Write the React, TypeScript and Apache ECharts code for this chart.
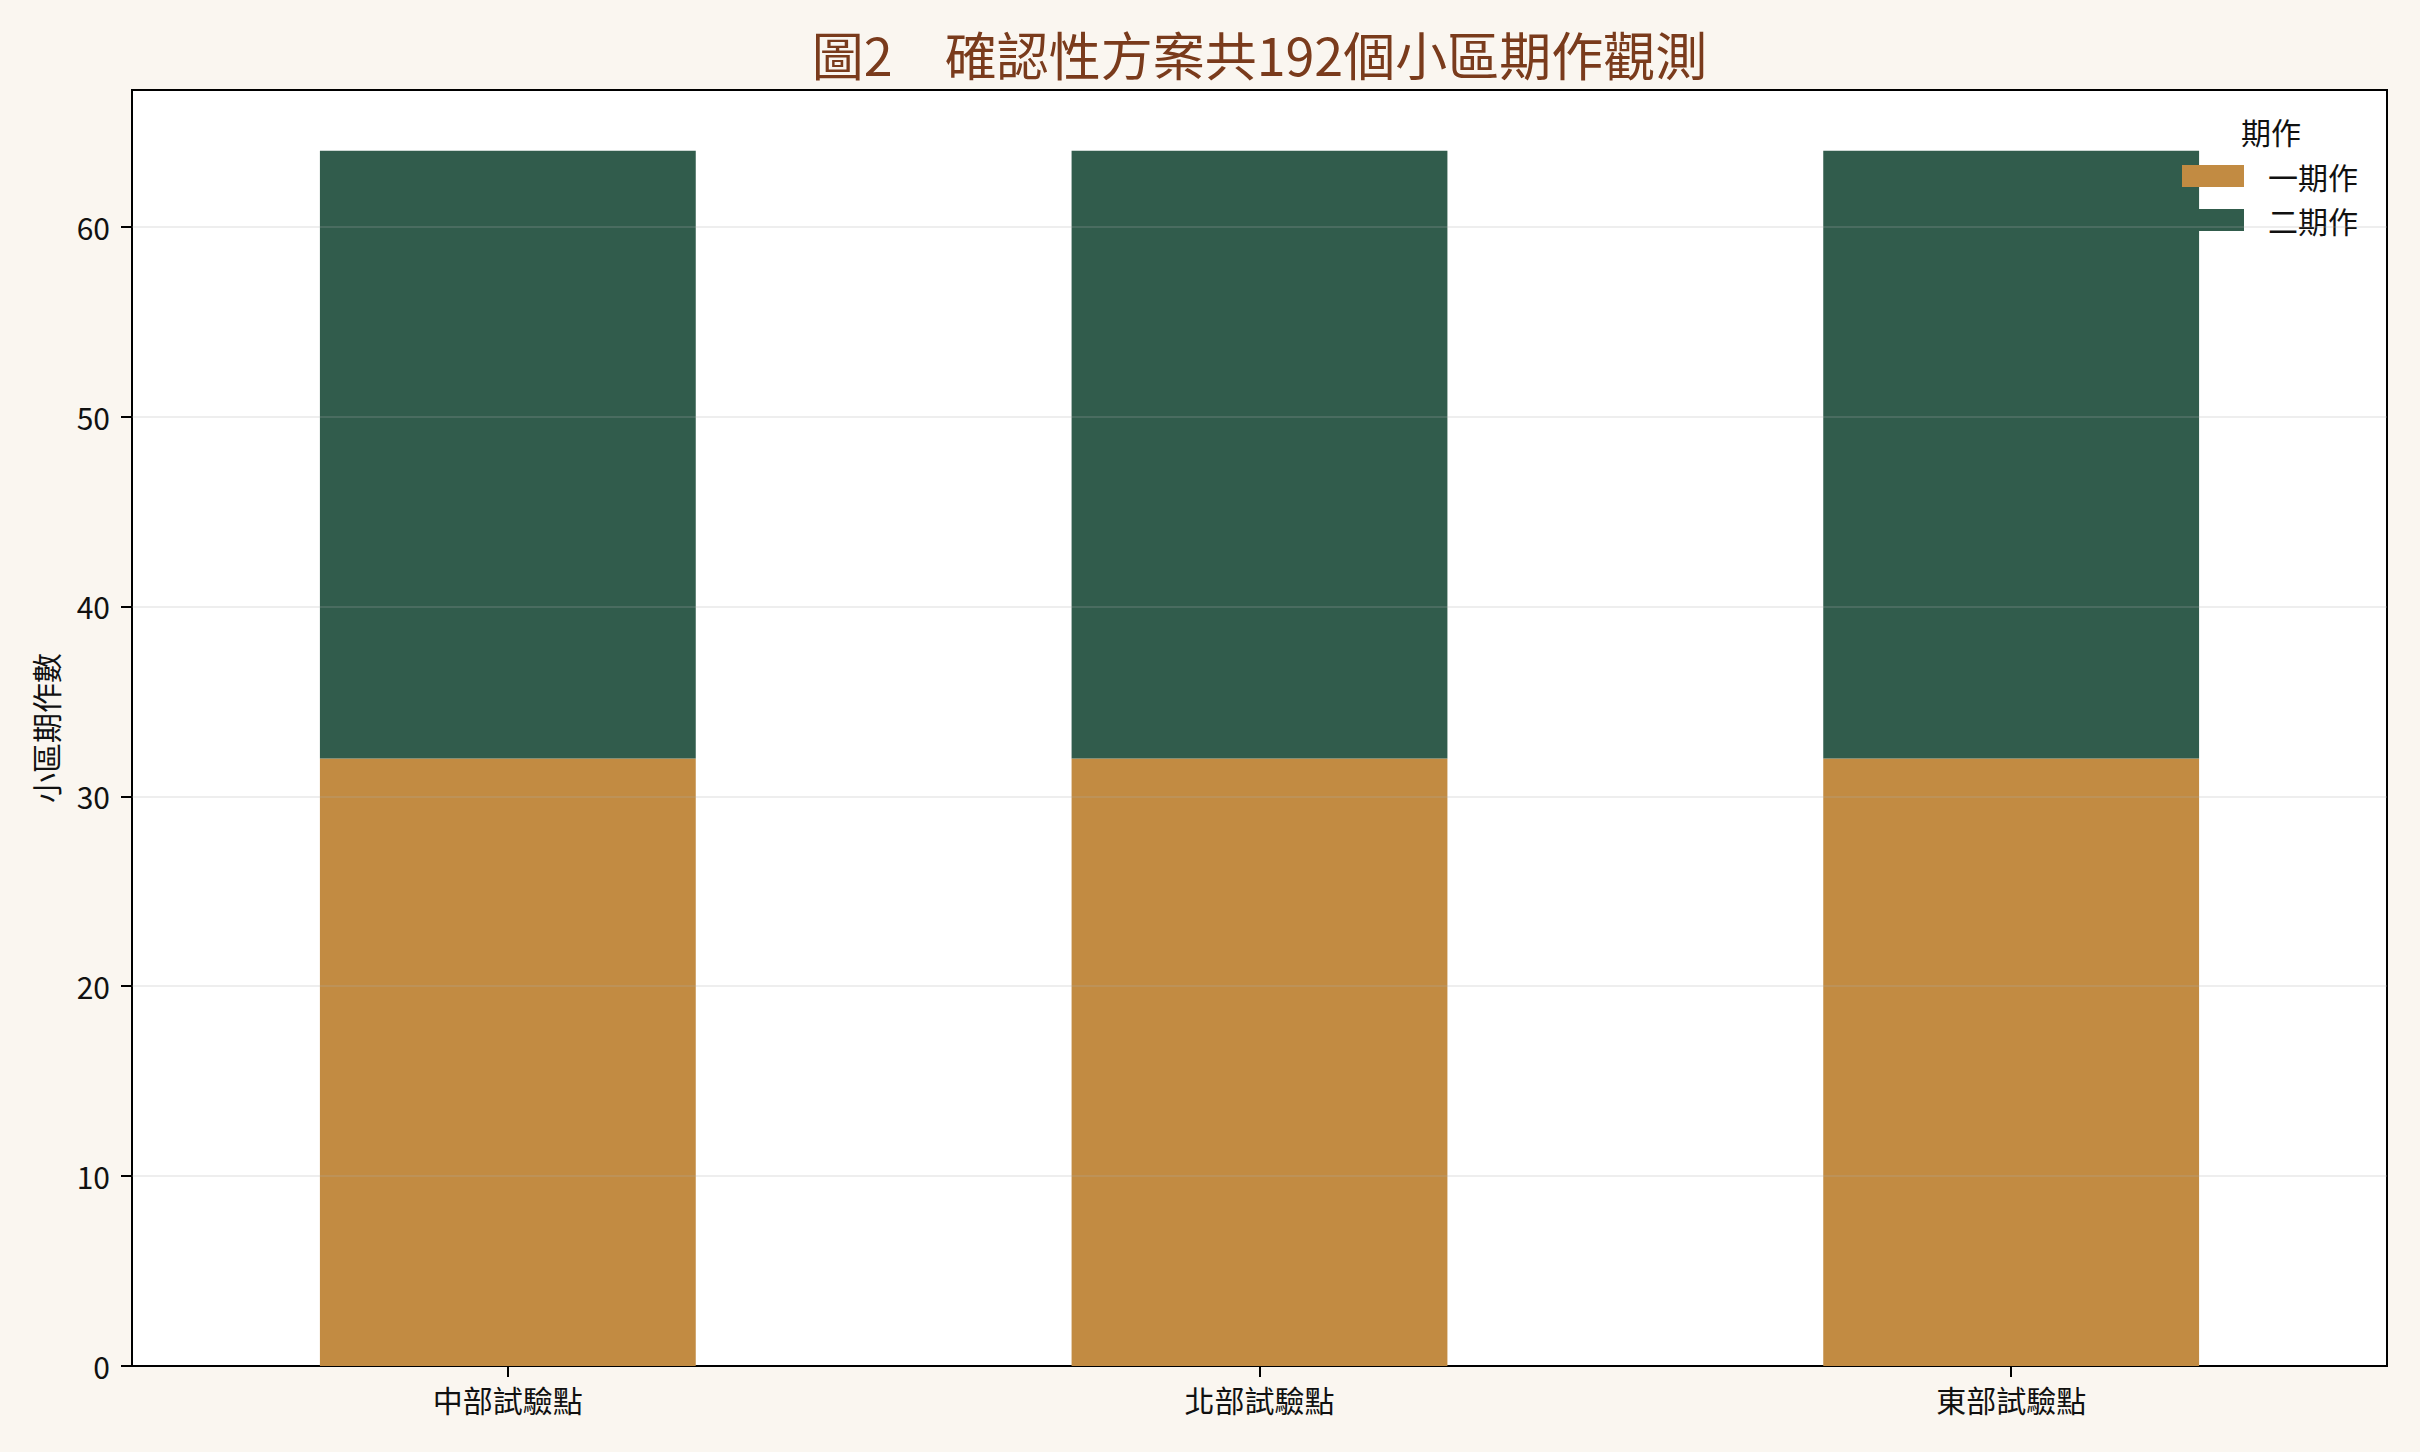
import React, { useEffect, useRef } from "react";
import * as echarts from "echarts";

const categories = ["中部試驗點", "北部試驗點", "東部試驗點"];
const seriesNames = ["一期作", "二期作"];
const firstSeason = [32, 32, 32];
const secondSeason = [32, 32, 32];
const yTicks = [10, 20, 30, 40, 50, 60];
const titleText = "圖2　確認性方案共192個小區期作觀測";
const yAxisTitle = "小區期作數";
const legendTitle = "期作";

const FONT = "'Noto Sans CJK TC', 'Noto Sans', sans-serif";
const W = 2420;
const H = 1452;
const GRID = { left: 132, right: 33, top: 90, bottom: 86 };

export default function App() {
  const ref = useRef<HTMLDivElement>(null);
  useEffect(() => {
    document.body.style.margin = "0";
    if (!ref.current) return;
    const chart = echarts.init(ref.current, undefined, { renderer: "svg" });
    const plotCenterX = GRID.left + (W - GRID.left - GRID.right) / 2;
    const plotCenterY = GRID.top + (H - GRID.top - GRID.bottom) / 2;
    chart.setOption({
      animation: false,
      backgroundColor: "#FAF6F0",
      textStyle: { fontFamily: FONT },
      grid: {
        left: GRID.left,
        right: GRID.right,
        top: GRID.top,
        bottom: GRID.bottom,
        show: true,
        backgroundColor: "#ffffff",
        borderColor: "#000000",
        borderWidth: 2,
        containLabel: false,
      },
      legend: {
        orient: "vertical",
        left: 2182,
        top: 161,
        itemWidth: 62,
        itemHeight: 22,
        itemGap: 14,
        icon: "rect",
        data: seriesNames,
        textStyle: { fontFamily: FONT, fontSize: 30, color: "#111", lineHeight: 30, padding: [0, 0, 0, 19] },
        padding: 0,
      },
      xAxis: {
        type: "category",
        data: categories,
        boundaryGap: true,
        axisLine: { show: true, lineStyle: { color: "#000", width: 2 } },
        axisTick: { show: true, alignWithLabel: true, length: 11, lineStyle: { color: "#000", width: 2 } },
        axisLabel: { fontFamily: FONT, fontSize: 30, color: "#111", margin: 18 },
        splitLine: { show: false },
      },
      yAxis: {
        type: "value",
        min: 0,
        max: 67.2,
        interval: 10,
        axisLine: { show: true, lineStyle: { color: "#000", width: 2 } },
        axisTick: { show: true, length: 11, lineStyle: { color: "#000", width: 2 } },
        axisLabel: { fontFamily: FONT, fontSize: 30, color: "#111", margin: 22, showMaxLabel: false },
        splitLine: { show: false },
      },
      series: [
        {
          name: seriesNames[0],
          type: "bar",
          stack: "total",
          barWidth: "50%",
          data: firstSeason,
          itemStyle: { color: "#C28B42" },
        },
        {
          name: seriesNames[1],
          type: "bar",
          stack: "total",
          barWidth: "50%",
          data: secondSeason,
          itemStyle: { color: "#315C4C" },
          markLine: {
            silent: true,
            symbol: "none",
            label: { show: false },
            lineStyle: { color: "rgba(176,176,176,0.28)", width: 1.6, type: "solid" },
            data: yTicks.map((v) => ({ yAxis: v })),
          },
        },
      ],
      graphic: [
        {
          type: "text",
          x: plotCenterX,
          y: 53,
          style: {
            text: titleText,
            fontFamily: FONT,
            fontSize: 52,
            fill: "#7A3B1C",
            align: "center",
            verticalAlign: "middle",
          },
        },
        {
          type: "text",
          x: 45,
          y: plotCenterY,
          rotation: Math.PI / 2,
          style: {
            text: yAxisTitle,
            fontFamily: FONT,
            fontSize: 30,
            fill: "#111",
            align: "center",
            verticalAlign: "middle",
          },
        },
        {
          type: "text",
          x: 2271,
          y: 131,
          style: {
            text: legendTitle,
            fontFamily: FONT,
            fontSize: 30,
            fill: "#111",
            align: "center",
            verticalAlign: "middle",
          },
        },
      ],
    });
    return () => chart.dispose();
  }, []);
  return <div ref={ref} style={{ width: W, height: H, background: "#FAF6F0" }} />;
}
